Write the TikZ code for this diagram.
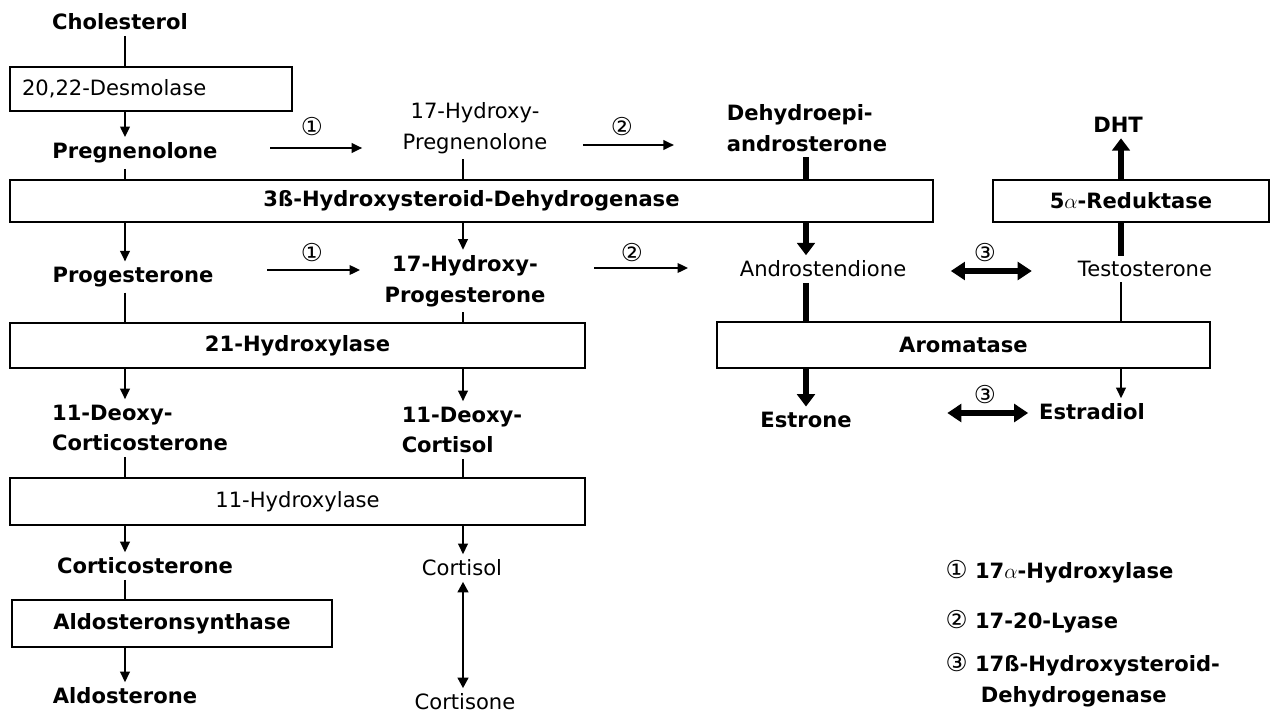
\documentclass[tikz,border=0pt]{standalone}
\usepackage{fontspec}
\setmainfont{DejaVu Sans}
\usetikzlibrary{arrows.meta}

\newcommand{\labfont}{\fontsize{12}{17.5}\selectfont}
\newcommand{\numfont}{\fontsize{14}{15}\selectfont\mdseries}

\tikzset{
    met/.style={font=\labfont\bfseries, inner sep=3pt},
    metr/.style={font=\labfont, inner sep=3pt},
    enz/.style={draw, line width=1pt, inner sep=0pt, font=\labfont\bfseries},
    num/.style={font=\numfont, inner sep=1pt},
    conn/.style={line width=1pt},
    arr/.style={line width=1pt, -{Triangle[length=6pt,width=5.5pt]}},
    thick conn/.style={line width=3pt},
    thick arr/.style={line width=3pt, -{Triangle[length=7pt,width=10pt]}},
    dbl arr/.style={line width=3pt, {Triangle[length=8pt,width=10pt]}-{Triangle[length=8pt,width=10pt]}},
    thin dbl/.style={line width=1.4pt, {Triangle[length=6pt,width=6pt]}-{Triangle[length=6pt,width=6pt]}}
}

\begin{document}
\begin{tikzpicture}[x=0.02cm, y=-0.02cm]
                \useasboundingbox (0,0) rectangle (1270,713);
                \coordinate (colL) at (125,0);
                \coordinate (colM) at (463,0);
                \coordinate (colR) at (806,0);
                \coordinate (colT) at (1121,0);

                \node[enz, minimum width=5.64cm, minimum height=0.88cm, text width=5.16cm, align=left, font=\labfont] (des) at (151,89) {20,22-Desmolase};
                \node[enz, minimum width=18.46cm, minimum height=0.84cm] (hsd) at (471.5,201) {3ß-Hydroxysteroid-Dehydrogenase};
                \node[enz, minimum width=5.52cm, minimum height=0.84cm] (red) at (1131,201) {5$\alpha$-Reduktase};
                \node[enz, minimum width=11.5cm, minimum height=0.9cm] (h21) at (297.5,345.5) {21-Hydroxylase};
                \node[enz, minimum width=9.86cm, minimum height=0.92cm] (aro) at (963.5,345) {Aromatase};
                \node[enz, minimum width=11.5cm, minimum height=0.94cm, font=\labfont] (h11) at (297.5,501.5) {11-Hydroxylase};
                \node[enz, minimum width=6.4cm, minimum height=0.94cm] (ald) at (172,623.5) {Aldosteronsynthase};

                \node[met] (chol) at (120,22) {Cholesterol};
                \node[met] (preg) at (135,153) {Pregnenolone};
                \node[metr, align=center] (ohpreg) at (475,128) {17-Hydroxy-\\Pregnenolone};
                \node[met, align=left] (dhea) at (807,128) {Dehydroepi-\\androsterone};
                \node[met] (dht) at (1118,125) {DHT};
                \node[met] (prog) at (133,277) {Progesterone};
                \node[met, align=center] (ohprog) at (465,281) {17-Hydroxy-\\Progesterone};
                \node[metr] (andro) at (823,269) {Androstendione};
                \node[metr] (testo) at (1145,269) {Testosterone};
                \node[met, align=left] (doc) at (140,428) {11-Deoxy-\\Corticosterone};
                \node[met, align=left] (dcort) at (462,430) {11-Deoxy-\\Cortisol};
                \node[met] (estrone) at (806,420) {Estrone};
                \node[met] (estradiol) at (1092,412) {Estradiol};
                \node[met] (cortico) at (145,566) {Corticosterone};
                \node[metr] (cortisol) at (462,568) {Cortisol};
                \node[met] (aldo) at (125,696) {Aldosterone};
                \node[metr] (cortisone) at (465,702) {Cortisone};

                \node[num] (n1a) at (312,127) {①};
                \node[num] (n2a) at (622,127) {②};
                \node[num] (n1b) at (312,253) {①};
                \node[num] (n2b) at (632,253) {②};
                \node[num] (n3a) at (985,253) {③};
                \node[num] (n3b) at (985,395) {③};

                \node[met, anchor=west] (leg1) at (940,572) {{\numfont ①} 17$\alpha$-Hydroxylase};
                \node[met, anchor=west] (leg2) at (940,622) {{\numfont ②} 17-20-Lyase};
                \node[met, anchor=west, align=left] (leg3) at (940,680) {{\numfont ③} 17ß-Hydroxysteroid-\\\hspace{20pt}Dehydrogenase};

                \draw[conn] (colL |- chol.south) -- (colL |- des.north);
                \draw[arr] (colL |- des.south) -- (colL |- preg.north);
                \draw[conn] (colL |- preg.south) -- (colL |- hsd.north);
                \draw[arr] (colL |- hsd.south) -- (colL |- prog.north);
                \draw[conn] (colL |- prog.south) -- (colL |- h21.north);
                \draw[arr] (colL |- h21.south) -- (colL |- doc.north);
                \draw[conn] (colL |- doc.south) -- (colL |- h11.north);
                \draw[arr] (colL |- h11.south) -- (colL |- cortico.north);
                \draw[conn] (colL |- cortico.south) -- (colL |- ald.north);
                \draw[arr] (colL |- ald.south) -- (colL |- aldo.north);

                \draw[conn] (colM |- ohpreg.south) -- (colM |- hsd.north);
                \draw[arr] (colM |- hsd.south) -- (colM |- ohprog.north);
                \draw[conn] (colM |- ohprog.south) -- (colM |- h21.north);
                \draw[arr] (colM |- h21.south) -- (colM |- dcort.north);
                \draw[conn] (colM |- dcort.south) -- (colM |- h11.north);
                \draw[arr] (colM |- h11.south) -- (colM |- cortisol.north);
                \draw[thin dbl] (colM |- cortisol.south) -- (colM |- cortisone.north);

                \draw[thick conn] (colR |- dhea.south) -- (colR |- hsd.north);
                \draw[thick arr] (colR |- hsd.south) -- (colR |- andro.north);
                \draw[thick conn] (colR |- andro.south) -- (colR |- aro.north);
                \draw[thick arr] (colR |- aro.south) -- (colR |- estrone.north);
                \draw[conn] (colT |- testo.south) -- (colT |- aro.north);
                \draw[arr] (colT |- aro.south) -- (colT |- estradiol.north);
                \draw[thick conn] (colT |- testo.north) -- (colT |- red.south);
                \draw[thick arr] (colT |- red.north) -- (colT |- dht.south);

                \draw[arr] (preg.east) ++(47,-5) -- ++(92,0);
                \draw[arr] (ohpreg.east) ++(30,17) -- ++(91,0);
                \draw[arr] (prog.east) ++(48,-7) -- ++(93,0);
                \draw[arr] (ohprog.east) ++(43,-13) -- ++(94,0);
                \draw[dbl arr] (andro.east) ++(39,2) -- ++(81,0);
                \draw[dbl arr] (estrone.east |- estradiol) ++(90,1) -- ++(81,0);
\end{tikzpicture}
\end{document}
